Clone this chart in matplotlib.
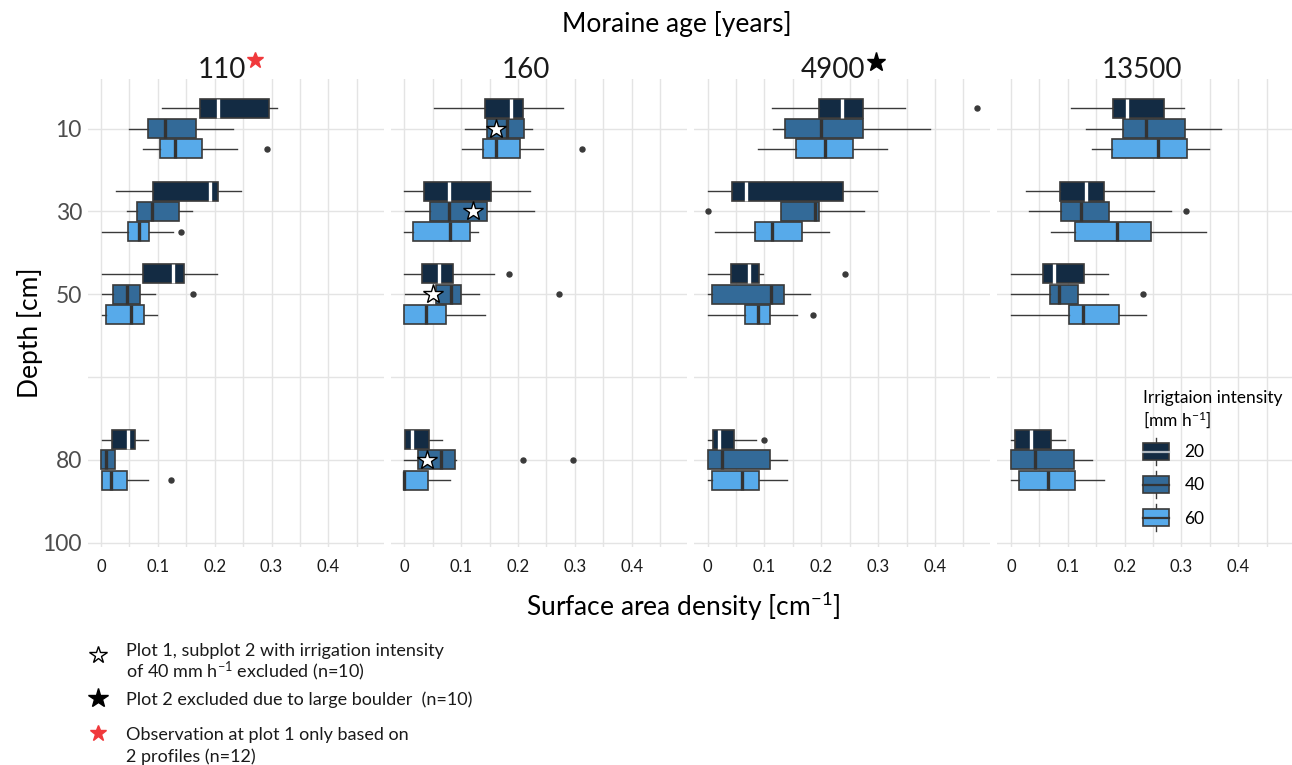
import matplotlib.pyplot as plt
from matplotlib.legend_handler import HandlerBase
from matplotlib.lines import Line2D
from matplotlib.patches import Rectangle
import numpy as np

plt.rcParams['font.family'] = ['Lato', 'DejaVu Sans']
plt.rcParams['mathtext.default'] = 'regular'

ages = ['110', '160', '4900', '13500']
depth_labels = ['10', '30', '50', '', '80', '100']
depth_rows = [0, 1, 2, 4]          # rows of depth_labels that hold boxes
intensities = ['20', '40', '60']
x_ticks = [0, 0.1, 0.2, 0.3, 0.4]
x_tick_labels = ['0', '0.1', '0.2', '0.3', '0.4']

# box statistics, indexed [age][depth][intensity]
whislo = np.array([
    [[0.108, 0.050, 0.074], [0.026, 0.046, 0.001], [0.001, 0.001, 0.001], [0.001, 0.000, 0.001]],
    [[0.053, 0.107, 0.102], [0.000, 0.001, 0.000], [0.000, 0.002, 0.000], [0.001, 0.000, 0.000]],
    [[0.113, 0.115, 0.088], [0.001, 0.129, 0.013], [0.001, 0.001, 0.001], [0.001, 0.001, 0.001]],
    [[0.105, 0.133, 0.142], [0.027, 0.032, 0.071], [0.000, 0.001, 0.000], [0.000, 0.000, 0.000]],
])
q1 = np.array([
    [[0.174, 0.083, 0.104], [0.091, 0.063, 0.047], [0.074, 0.021, 0.009], [0.020, 0.000, 0.001]],
    [[0.142, 0.145, 0.138], [0.034, 0.046, 0.016], [0.032, 0.056, 0.000], [0.001, 0.025, 0.000]],
    [[0.196, 0.136, 0.155], [0.043, 0.130, 0.083], [0.042, 0.008, 0.066], [0.009, 0.001, 0.007]],
    [[0.180, 0.197, 0.178], [0.087, 0.088, 0.112], [0.056, 0.069, 0.103], [0.008, 0.001, 0.015]],
])
med = np.array([
    [[0.205, 0.112, 0.130], [0.191, 0.090, 0.067], [0.126, 0.046, 0.052], [0.048, 0.008, 0.018]],
    [[0.188, 0.180, 0.161], [0.078, 0.079, 0.081], [0.061, 0.083, 0.039], [0.014, 0.064, 0.000]],
    [[0.237, 0.199, 0.206], [0.067, 0.189, 0.114], [0.073, 0.112, 0.088], [0.020, 0.025, 0.060]],
    [[0.205, 0.237, 0.258], [0.132, 0.123, 0.187], [0.075, 0.084, 0.127], [0.035, 0.042, 0.065]],
])
q3 = np.array([
    [[0.296, 0.168, 0.178], [0.206, 0.137, 0.084], [0.146, 0.068, 0.076], [0.060, 0.025, 0.045]],
    [[0.208, 0.211, 0.204], [0.152, 0.145, 0.115], [0.085, 0.099, 0.074], [0.043, 0.090, 0.042]],
    [[0.273, 0.273, 0.256], [0.239, 0.196, 0.166], [0.091, 0.135, 0.110], [0.046, 0.110, 0.090]],
    [[0.270, 0.307, 0.310], [0.163, 0.172, 0.246], [0.129, 0.118, 0.191], [0.071, 0.111, 0.113]],
])
whishi = np.array([
    [[0.310, 0.233, 0.239], [0.247, 0.161, 0.126], [0.204, 0.095, 0.099], [0.082, 0.025, 0.082]],
    [[0.280, 0.225, 0.244], [0.222, 0.229, 0.129], [0.157, 0.132, 0.142], [0.067, 0.091, 0.080]],
    [[0.347, 0.392, 0.315], [0.298, 0.275, 0.213], [0.098, 0.180, 0.157], [0.085, 0.139, 0.140]],
    [[0.305, 0.370, 0.349], [0.251, 0.282, 0.344], [0.170, 0.170, 0.237], [0.096, 0.143, 0.163]],
])
# outliers: (age, depth, intensity) -> values
fliers = {
    (0, 0, 2): [0.292], (0, 1, 2): [0.141], (0, 2, 1): [0.162], (0, 3, 2): [0.123],
    (1, 0, 2): [0.313], (1, 2, 0): [0.184], (1, 2, 1): [0.273], (1, 3, 1): [0.208, 0.296],
    (2, 0, 0): [0.474], (2, 1, 1): [0.0], (2, 2, 0): [0.242], (2, 2, 2): [0.185], (2, 3, 0): [0.099],
    (3, 1, 1): [0.308], (3, 2, 1): [0.233],
}
# excluded subplot markers (age 160, intensity 40), one per depth
star_age = 1
star_int = 1
star_x = [0.161, 0.121, 0.051, 0.040]

box_colors = ['#132B43', '#336A98', '#57AAEA']
median_colors = ['white', '#333333', '#333333']
edge = '#3a3a3a'
grid_c = '#E4E4E4'
offsets = [-0.245, 0.0, 0.245]
box_h = 0.23

W, H = 1292, 765
fig = plt.figure(figsize=(W / 100, H / 100), dpi=100)


def fx(px):
    return px / W


def fy(py):
    return 1 - py / H


panel_w = 296
panel_top, panel_bot = 79, 547
axes = []
for a, age in enumerate(ages):
    left = 87.5 + a * 303.3
    ax = fig.add_axes([fx(left), fy(panel_bot), panel_w / W, (panel_bot - panel_top) / H])
    axes.append(ax)
    for d, row in enumerate(depth_rows):
        for k in range(3):
            stats = dict(whislo=whislo[a, d, k], q1=q1[a, d, k], med=med[a, d, k],
                         q3=q3[a, d, k], whishi=whishi[a, d, k],
                         fliers=fliers.get((a, d, k), []))
            ax.bxp([stats], positions=[row + offsets[k]], widths=box_h,
                   orientation='horizontal', patch_artist=True, showcaps=False,
                   manage_ticks=False,
                   boxprops=dict(facecolor=box_colors[k], edgecolor=edge, linewidth=1.2),
                   medianprops=dict(color=median_colors[k], linewidth=2.4),
                   whiskerprops=dict(color=edge, linewidth=1.0),
                   flierprops=dict(marker='o', markersize=3.6, markerfacecolor=edge,
                                   markeredgecolor=edge))
    if a == star_age:
        ax.plot(star_x, [r + offsets[star_int] for r in depth_rows], linestyle='none',
                marker='*', markersize=15, markerfacecolor='white', markeredgecolor='black',
                markeredgewidth=1.0, zorder=5)

    ax.set_xlim(-0.0237, 0.497)
    ax.set_ylim(5.053, -0.6)
    ax.set_xticks(x_ticks)
    ax.set_xticklabels(x_tick_labels, fontsize=12, color='#1a1a1a')
    ax.set_xticks(np.arange(0.05, 0.5, 0.1), minor=True)
    ax.set_yticks(range(len(depth_labels)))
    if a == 0:
        ax.set_yticklabels(depth_labels, fontsize=16.5, color='#4D4D4D')
    else:
        ax.set_yticklabels([])
    ax.tick_params(which='both', length=0)
    ax.tick_params(axis='x', pad=9)
    ax.tick_params(axis='y', pad=4)
    ax.grid(which='both', axis='x', color=grid_c, linewidth=1.0)
    ax.grid(which='major', axis='y', color=grid_c, linewidth=1.0)
    ax.set_axisbelow(True)
    for s in ax.spines.values():
        s.set_visible(False)

# facet strip labels
strip_x = [222, 526, 833, 1142]
for age, sx in zip(ages, strip_x):
    fig.text(fx(sx), fy(78), age, fontsize=20, ha='center', va='baseline', color='#1a1a1a')

star_kw = dict(marker='*', linestyle='none', transform=fig.transFigure)
fig.add_artist(Line2D([fx(255)], [fy(60)], markersize=12, color='#F0393C', **star_kw))
fig.add_artist(Line2D([fx(876)], [fy(62)], markersize=14, color='black', **star_kw))

fig.text(fx(677), fy(32), 'Moraine age [years]', fontsize=19, ha='center', va='baseline')
fig.text(fx(683), fy(616), 'Surface area density [cm$^{-1}$]', fontsize=19,
         ha='center', va='baseline')
fig.text(fx(30), fy(333), 'Depth [cm]', fontsize=19, rotation=90, ha='center', va='center')


# legend with boxplot-like keys
class BoxKey:
    def __init__(self, fc, mc):
        self.fc = fc
        self.mc = mc


class BoxKeyHandler(HandlerBase):
    def create_artists(self, legend, orig_handle, xdescent, ydescent, width, height,
                       fontsize, trans):
        x0, y0 = -xdescent, -ydescent
        cx = x0 + width / 2
        whisk = Line2D([cx, cx], [y0 - 0.1 * height, y0 + 1.1 * height], color=edge,
                       linewidth=1.0, transform=trans)
        box = Rectangle((x0, y0 + height * 0.12), width, height * 0.76,
                        facecolor=orig_handle.fc, edgecolor=edge, linewidth=1.2, transform=trans)
        mline = Line2D([x0, x0 + width], [y0 + height / 2] * 2, color=orig_handle.mc,
                       linewidth=1.6, transform=trans)
        return [whisk, box, mline]


handles = [BoxKey(c, m) for c, m in zip(box_colors, ['#B0B8C0', '#333333', '#333333'])]
axes[3].legend(handles, intensities, handler_map={BoxKey: BoxKeyHandler()},
               title='Irrigtaion intensity\n[mm h$^{-1}$]', title_fontsize=12.5, fontsize=12.5,
               alignment='left', frameon=False, loc='upper left',
               bbox_to_anchor=(fx(1134), fy(381)), bbox_transform=fig.transFigure,
               borderpad=0, handlelength=1.5, handleheight=1.6, labelspacing=0.62,
               handletextpad=0.9)

# notes under the chart
note_kw = dict(fontsize=13, ha='left', va='baseline', color='#1a1a1a')
fig.text(fx(126), fy(656), 'Plot 1, subplot 2 with irrigation intensity', **note_kw)
fig.text(fx(126), fy(678), 'of 40 mm h$^{-1}$ excluded (n=10)', **note_kw)
fig.text(fx(126), fy(705), 'Plot 2 excluded due to large boulder  (n=10)', **note_kw)
fig.text(fx(126), fy(740), 'Observation at plot 1 only based on', **note_kw)
fig.text(fx(126), fy(762), '2 profiles (n=12)', **note_kw)
fig.add_artist(Line2D([fx(98)], [fy(655)], markersize=13, markerfacecolor='white',
                      markeredgecolor='black', markeredgewidth=1.0, **star_kw))
fig.add_artist(Line2D([fx(98)], [fy(698)], markersize=15, color='black', **star_kw))
fig.add_artist(Line2D([fx(98)], [fy(733)], markersize=12, color='#F0393C', **star_kw))

fig.savefig('out.png', dpi=100)
